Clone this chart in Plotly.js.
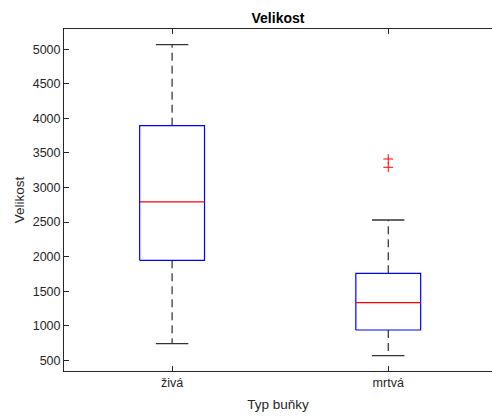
<!DOCTYPE html>
<html>
<head>
<meta charset="utf-8">
<script src="https://cdn.plot.ly/plotly-3.0.1.min.js"></script>
<style>html,body{margin:0;padding:0;background:#fff}#chart{width:492px;height:420px}</style>
</head>
<body>
<div id="chart"></div>
<script>
var categories = ["živá", "mrtvá"];
var positions = [1, 2];
var lowerWhisker = [740, 567];
var q1 = [1947, 938];
var median = [2791, 1333];
var q3 = [3895, 1759];
var upperWhisker = [5067, 2530];
var outlierX = [2, 2];
var outlierY = [3413, 3293];
var yTicks = [500, 1000, 1500, 2000, 2500, 3000, 3500, 4000, 4500, 5000];

var boxHalf = 0.15, capHalf = 0.075;
var traces = [];
for (var i = 0; i < categories.length; i++) {
  var p = positions[i];
  traces.push({type:'scatter', mode:'lines', hoverinfo:'skip',
    x:[p, p, null, p, p], y:[q3[i], upperWhisker[i], null, q1[i], lowerWhisker[i]],
    line:{color:'#000000', width:1, dash:'8px,5px'}});
  traces.push({type:'scatter', mode:'lines', hoverinfo:'skip',
    x:[p-capHalf, p+capHalf, null, p-capHalf, p+capHalf],
    y:[upperWhisker[i], upperWhisker[i], null, lowerWhisker[i], lowerWhisker[i]],
    line:{color:'#333333', width:1.3}});
  traces.push({type:'scatter', mode:'lines', hoverinfo:'skip',
    x:[p-boxHalf, p+boxHalf, p+boxHalf, p-boxHalf, p-boxHalf],
    y:[q1[i], q1[i], q3[i], q3[i], q1[i]],
    line:{color:'#0000ff', width:1.2}});
  traces.push({type:'scatter', mode:'lines', hoverinfo:'skip',
    x:[p-boxHalf, p+boxHalf], y:[median[i], median[i]],
    line:{color:'#ff0000', width:1.2}});
}
traces.push({type:'scatter', mode:'markers', hoverinfo:'skip',
  x:outlierX, y:outlierY,
  marker:{symbol:'cross-thin-open', size:7, color:'#ff0000', line:{color:'#ff0000', width:1}}});

var font = 'Liberation Sans, Arial, Helvetica, sans-serif';
var layout = {
  width:492, height:420,
  margin:{l:64, r:0, t:29, b:49},
  paper_bgcolor:'#ffffff', plot_bgcolor:'#ffffff',
  showlegend:false,
  font:{family:font, size:12.5, color:'#262626'},
  title:{text:'<b>Velikost</b>', x:0.565, xanchor:'center', y:0.957, yanchor:'middle',
    font:{family:font, size:14, color:'#000000'}},
  xaxis:{range:[0.5, 2.48], tickvals:positions, ticktext:categories,
    ticks:'inside', ticklen:5, tickcolor:'#262626', showgrid:false, zeroline:false,
    showline:true, linecolor:'#262626', linewidth:1, mirror:'ticks',
    tickfont:{family:font, size:12.5, color:'#262626'},
    title:{text:'Typ buňky', standoff:10, font:{family:font, size:13.5, color:'#262626'}}},
  yaxis:{range:[345, 5294], tickvals:yTicks, ticktext:yTicks.map(String),
    ticks:'inside', ticklen:5, tickcolor:'#262626', showgrid:false, zeroline:false,
    showline:true, linecolor:'#262626', linewidth:1, mirror:false,
    tickfont:{family:font, size:12.5, color:'#262626'},
    title:{text:'Velikost', standoff:4, font:{family:font, size:13.5, color:'#262626'}}}
};
Plotly.newPlot('chart', traces, layout, {staticPlot:true, displayModeBar:false});
</script>
</body>
</html>
